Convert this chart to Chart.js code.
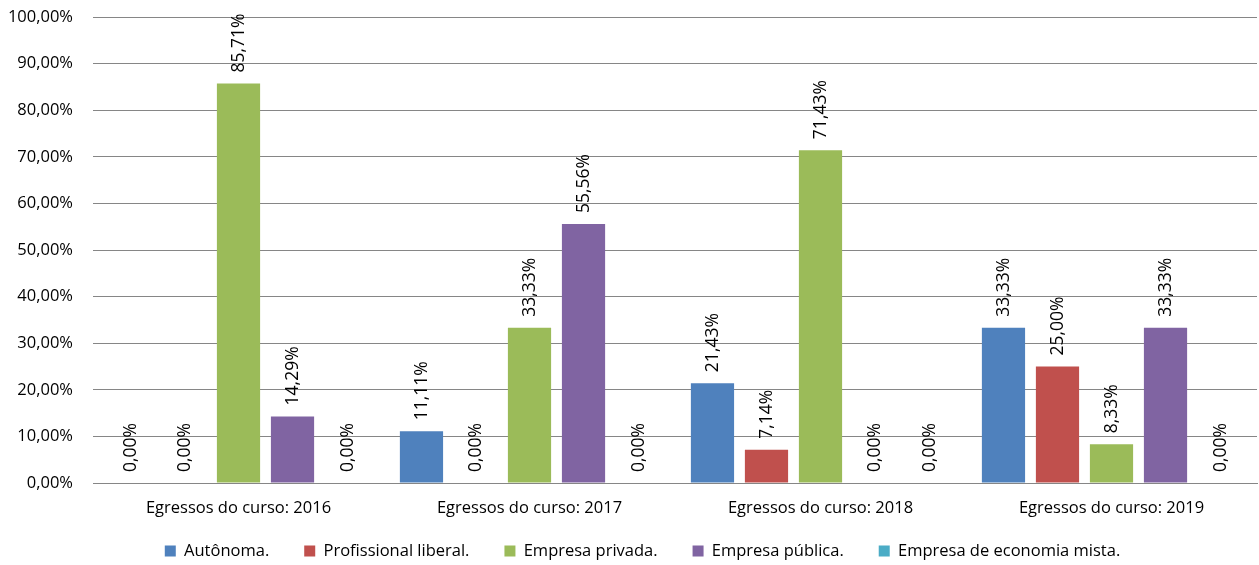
<!DOCTYPE html>
<html>
<head>
<meta charset="utf-8">
<script src="https://cdn.jsdelivr.net/npm/chart.js@4.4.0/dist/chart.umd.min.js"></script>
<style>
  html, body { margin: 0; padding: 0; background: #fff; }
  #wrap { width: 1259px; height: 565px; position: relative; }
</style>
</head>
<body>
<div id="wrap"><canvas id="chart" width="1259" height="565"></canvas></div>
<script>
// --- DATA ---
const categories = ['Egressos do curso: 2016', 'Egressos do curso: 2017', 'Egressos do curso: 2018', 'Egressos do curso: 2019'];
const seriesNames = ['Autônoma.', 'Profissional liberal.', 'Empresa privada.', 'Empresa pública.', 'Empresa de economia mista.'];
const autonoma = [0, 11.11, 21.43, 33.33];
const profissionalLiberal = [0, 0, 7.14, 25.00];
const empresaPrivada = [85.71, 33.33, 71.43, 8.33];
const empresaPublica = [14.29, 55.56, 0, 33.33];
const economiaMista = [0, 0, 0, 0];
const yTicks = [0, 10, 20, 30, 40, 50, 60, 70, 80, 90, 100];

const colors = ['#4F81BD', '#C0504D', '#9BBB59', '#8064A2', '#4BACC6'];
const FONT = "'Open Sans', 'Liberation Sans', sans-serif";

const fmt = v => v.toFixed(2).replace('.', ',') + '%';

// draws the rotated value above every bar
const barLabels = {
    id: 'barLabels',
    afterDatasetsDraw: (chart) => {
        const ctx = chart.ctx;
        ctx.save();
        ctx.font = `17.5px ${FONT}`;
        ctx.fillStyle = '#000';
        ctx.textAlign = 'left';
        ctx.textBaseline = 'middle';
        chart.data.datasets.forEach((ds, i) => {
            chart.getDatasetMeta(i).data.forEach((bar, j) => {
                ctx.save();
                ctx.translate(bar.x + 1, bar.y - 11);
                ctx.rotate(-Math.PI / 2);
                ctx.fillText(fmt(ds.data[j]), 0, 0);
                ctx.restore();
            });
        });
        ctx.restore();
    }
};

// move the legend row: a bit right of canvas centre and to y ~551
const legendShift = {
    id: 'legendShift',
    afterLayout: (chart) => {
        const lg = chart.legend;
        if (!lg) return;
        lg.left += 14;
        lg.right += 14;
        const dy = 507.75 - lg.top;
        lg.top += dy;
        lg.bottom += dy;
    }
};

const allSeries = [autonoma, profissionalLiberal, empresaPrivada, empresaPublica, economiaMista];

new Chart(document.getElementById('chart'), {
    type: 'bar',
    data: {
        labels: categories,
        datasets: allSeries.map((d, i) => ({
            label: seriesNames[i],
            data: d,
            backgroundColor: colors[i],
            borderWidth: 0,
            categoryPercentage: 0.928,
            barPercentage: 0.8
        }))
    },
    options: {
        responsive: false,
        animation: false,
        devicePixelRatio: 1,
        layout: { padding: { top: 0, right: 2, left: 0, bottom: -19.5 } },
        plugins: {
            legend: {
                position: 'bottom',
                labels: {
                    font: { family: FONT, size: 16.5 },
                    color: '#000',
                    boxWidth: 11,
                    boxHeight: 11,
                    padding: 35
                }
            },
            tooltip: { enabled: false }
        },
        scales: {
            x: {
                afterFit: (scale) => { scale.height = 40; },
                grid: { display: false },
                border: { color: '#868686' },
                ticks: { font: { family: FONT, size: 16.5 }, color: '#000', padding: 7, maxRotation: 0 }
            },
            y: {
                min: 0,
                max: 100,
                afterFit: (scale) => { scale.width = 93; scale.paddingTop = 17; },
                afterBuildTicks: (scale) => { scale.ticks = yTicks.map(v => ({ value: v })); },
                grid: { color: '#868686', drawTicks: true, tickLength: 8, tickColor: '#fff' },
                border: { display: false },
                ticks: {
                    font: { family: FONT, size: 16.5 },
                    color: '#000',
                    padding: 12,
                    callback: (v) => fmt(v)
                }
            }
        }
    },
    plugins: [barLabels, legendShift]
});
</script>
</body>
</html>
